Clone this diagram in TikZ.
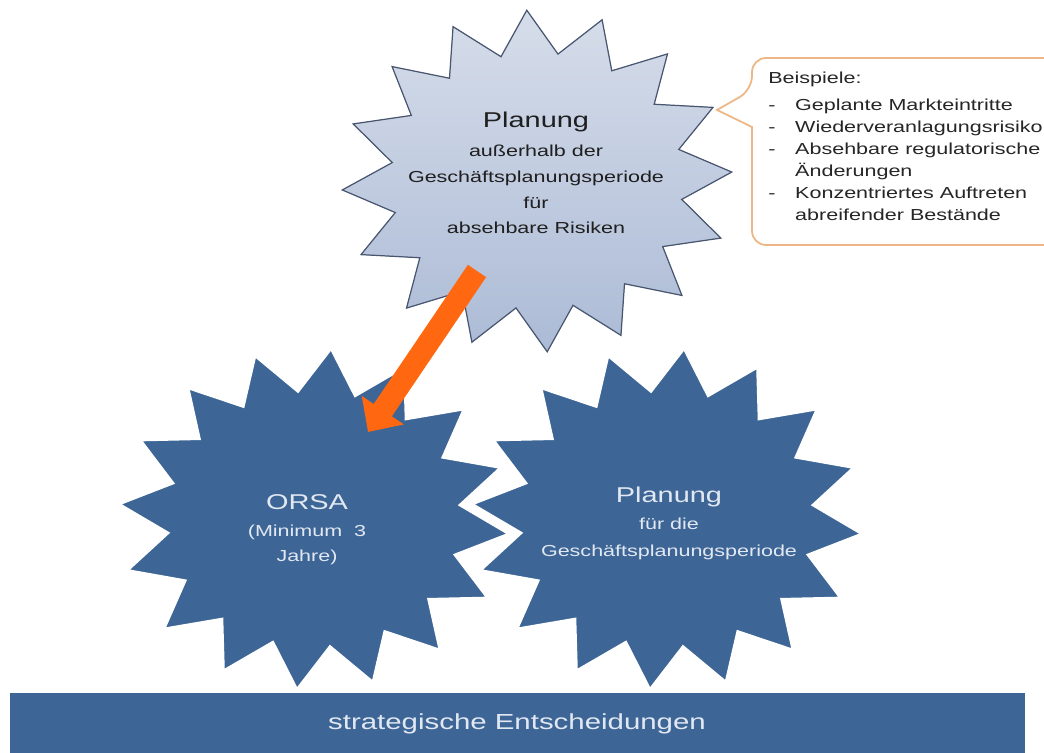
\documentclass[tikz,border=0pt]{standalone}
\usepackage{fontspec}
\setmainfont{Liberation Sans}[FakeStretch=1.35]
\usetikzlibrary{arrows.meta}

\definecolor{sternblau}{RGB}{61,102,150}
\definecolor{sternoben}{RGB}{214,221,234}
\definecolor{sternunten}{RGB}{172,187,214}
\definecolor{sternrand}{RGB}{72,86,112}
\definecolor{blasenrand}{RGB}{238,182,132}
\definecolor{pfeilorange}{RGB}{255,104,16}
\definecolor{hellschrift}{RGB}{226,232,242}

% 16-zackiger Stern: Stil, Mitte x, Mitte y, Radius x, Radius y, Drehung
\newcommand{\stern}[6]{\filldraw[#1] plot[samples at={0,...,32}]
  ({#2+#4*(0.875+0.125*cos(\x*180))*sin(\x*11.25+#6)},
   {#3-#5*(0.875+0.125*cos(\x*180))*cos(\x*11.25+#6)}) -- cycle;}
\newcommand{\strich}{\makebox[15.3pt][l]{-}}
\newcommand{\einzug}{\hspace*{15.3pt}}
\newcommand{\grossschrift}{\fontsize{12.2}{14.6}\selectfont}

\tikzset{
  dunkelstern/.style={fill=sternblau, draw=white, line width=2.6pt, line join=miter},
  hellstern/.style={draw=sternrand, line width=0.7pt, top color=sternoben, bottom color=sternunten},
  hellertext/.style={align=center, inner sep=0pt, text=black!88, font=\fontsize{9.07}{14.6}\selectfont},
  dunkeltext/.style={align=center, inner sep=0pt, text=hellschrift},
  sprechblase/.style={draw=blasenrand, line width=1pt, fill=white},
  beispieltext/.style={align=left, inner sep=0pt, text=black!85, font=\fontsize{9.07}{12.5}\selectfont},
  pfeil/.style={draw=pfeilorange, line width=12.5pt, -{Triangle[width=28pt,length=15pt]}},
  balkentext/.style={inner sep=0pt, text=hellschrift, font=\fontsize{12.4}{14}\selectfont}
}

\begin{document}
\begin{tikzpicture}[x=0.02cm,y=-0.02cm]
\useasboundingbox (0,0) rectangle (1044,753);
\clip (0,0) rectangle (1044,753);

% Sterne
\stern{dunkelstern}{667}{519}{198}{173}{5}
\stern{dunkelstern}{314}{519}{198}{173}{5}
\stern{hellstern}{537}{181}{195}{171}{-3}

% Texte in den Sternen
\node[hellertext, anchor=north] (planung_extern) at (536,112)
  {{\grossschrift Planung}\\[1.8pt] außerhalb der\\ Geschäftsplanungsperiode\\ für\\ absehbare Risiken};
\node[dunkeltext, anchor=north, font=\fontsize{9.07}{14.2}\selectfont] (orsa) at (307,494)
  {{\grossschrift ORSA}\\[1.1pt] (Minimum~~3\\ Jahre)};
\node[dunkeltext, anchor=north, font=\fontsize{9.07}{15.3}\selectfont] (planung_intern) at (669,487)
  {{\grossschrift Planung}\\ für die\\ Geschäftsplanungsperiode};

% Sprechblase mit Beispielen
\draw[sprechblase] (752,127) [rounded corners=8pt] -- (752,245) -- (1070,245) -- (1070,58)
  -- (752,58) -- (752,90) [sharp corners] -- (717,110) -- cycle;
\node[beispieltext, anchor=north west] (beispiele) at (768,72)
  {Beispiele:\\[2.8pt]
   \strich Geplante Markteintritte\\
   \strich Wiederveranlagungsrisiko\\
   \strich Absehbare regulatorische\\
   \einzug Änderungen\\
   \strich Konzentriertes Auftreten\\
   \einzug abreifender Bestände};

% Pfeil
\coordinate (pfeilanfang) at (477,271);
\coordinate (pfeilspitze) at (368,432);
\draw[pfeil] (pfeilanfang) -- (pfeilspitze);

% Balken
\fill[sternblau] (10,693) rectangle (1025,760);
\node[balkentext] (entscheidungen) at (517,724) {strategische Entscheidungen};
\end{tikzpicture}
\end{document}
